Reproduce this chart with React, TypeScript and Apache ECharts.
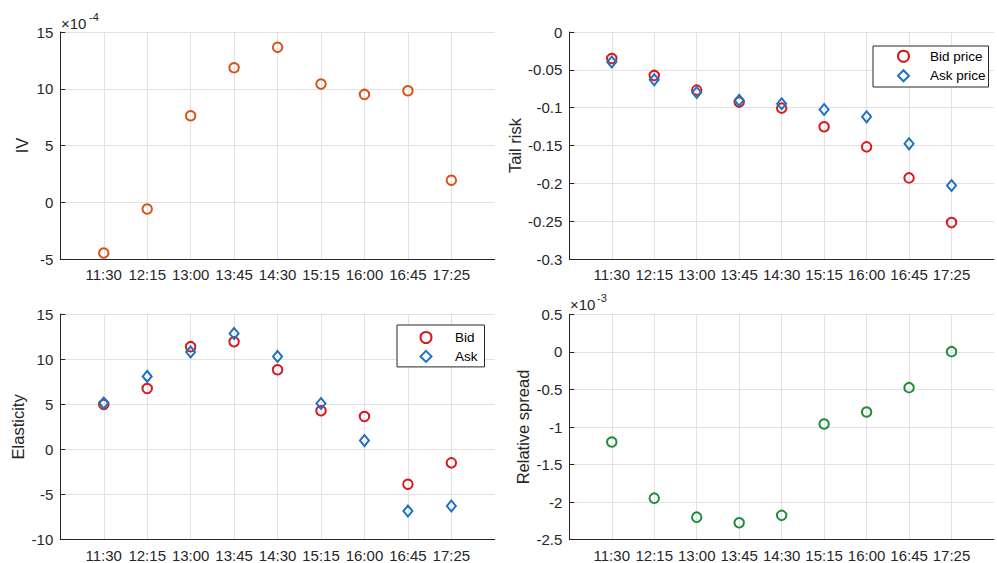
import React, { useEffect, useRef } from "react";
import * as echarts from "echarts";

const times = ["11:30", "12:15", "13:00", "13:45", "14:30", "15:15", "16:00", "16:45", "17:25"];

const ivValues = [-4.47e-4, -0.59e-4, 7.62e-4, 11.85e-4, 13.65e-4, 10.41e-4, 9.5e-4, 9.82e-4, 1.94e-4];

const tailBid = [-0.035, -0.0574, -0.0768, -0.0926, -0.1006, -0.1253, -0.1518, -0.1928, -0.2519];
const tailAsk = [-0.0397, -0.0631, -0.0799, -0.0904, -0.0949, -0.1024, -0.1121, -0.1478, -0.2029];

const elasBid = [4.98, 6.75, 11.38, 11.93, 8.82, 4.28, 3.65, -3.86, -1.49];
const elasAsk = [5.13, 8.09, 10.8, 12.85, 10.3, 5.09, 0.98, -6.82, -6.27];

const spreadValues = [-1.2e-3, -1.947e-3, -2.2e-3, -2.274e-3, -2.176e-3, -0.96e-3, -0.8e-3, -0.476e-3, 0.003e-3];

const FONT = "'Liberation Sans', Arial, Helvetica, sans-serif";
const AX = "#262626";
const GRIDC = "#e2e2e2";
const ORANGE = "#D95319";
const RED = "#D7191F";
const BLUE = "#1F72BD";
const GREEN = "#1E8C3A";

const pts = (arr: number[]) => arr.map((v, i) => [i + 1, v]);

function fmt(v: number, scale: number) {
  const n = Number((v * scale).toFixed(4));
  return Object.is(n, -0) ? "0" : String(n);
}

export default function App() {
  const ref = useRef<HTMLDivElement>(null);
  useEffect(() => {
    if (!ref.current) return;
    const chart = echarts.init(ref.current, undefined, { renderer: "svg" });

    const grids = [
      { left: 60.3, top: 32, width: 434.5, height: 227 },
      { left: 569.3, top: 32, width: 434, height: 227 },
      { left: 60.3, top: 314, width: 434.5, height: 225.7 },
      { left: 569.3, top: 314.3, width: 434, height: 225.4 },
    ];

    const xAxes = grids.map((_, i) => ({
      type: "value",
      gridIndex: i,
      min: 0,
      max: 10,
      interval: 1,
      axisLine: { show: true, onZero: false, lineStyle: { color: AX, width: 1 } },
      axisTick: { show: false },
      axisLabel: {
        color: AX,
        fontSize: 15,
        fontFamily: FONT,
        margin: 8,
        formatter: (v: number) => (v >= 1 && v <= 9 ? times[Math.round(v) - 1] : ""),
      },
      splitLine: { show: true, showMinLine: false, showMaxLine: false, lineStyle: { color: GRIDC, width: 1 } },
    }));

    const yBase = (i: number, name: string, gap: number, min: number, max: number, interval: number, scale: number) => ({
      type: "value",
      gridIndex: i,
      min,
      max,
      interval,
      name,
      nameLocation: "middle",
      nameGap: gap,
      nameTextStyle: { color: AX, fontSize: 16.5, fontFamily: FONT },
      axisLine: { show: true, onZero: false, lineStyle: { color: AX, width: 1 } },
      axisTick: { show: true, inside: true, length: 5, lineStyle: { color: AX } },
      axisLabel: {
        color: AX,
        fontSize: 15,
        fontFamily: FONT,
        margin: 7,
        formatter: (v: number) => fmt(v, scale),
      },
      splitLine: { show: true, showMinLine: false, lineStyle: { color: GRIDC, width: 1 } },
    });

    const yAxes = [
      yBase(0, "IV", 30, -5e-4, 15e-4, 5e-4, 1e4),
      yBase(1, "Tail risk", 46, -0.3, 0, 0.05, 1),
      yBase(2, "Elasticity", 34, -10, 15, 5, 1),
      yBase(3, "Relative spread", 38, -2.5e-3, 0.5e-3, 0.5e-3, 1e3),
    ];

    const circle = (name: string, data: number[], color: string, idx: number) => ({
      type: "scatter",
      name,
      xAxisIndex: idx,
      yAxisIndex: idx,
      data: pts(data),
      symbol: "circle",
      symbolSize: 9.5,
      itemStyle: { color: "rgba(0,0,0,0)", borderColor: color, borderWidth: 2, opacity: 1 },
      emphasis: { disabled: true },
    });
    const diamond = (name: string, data: number[], color: string, idx: number) => ({
      type: "scatter",
      name,
      xAxisIndex: idx,
      yAxisIndex: idx,
      data: pts(data),
      symbol: "diamond",
      symbolSize: [9, 11],
      itemStyle: { color: "rgba(0,0,0,0)", borderColor: color, borderWidth: 2, opacity: 1 },
      emphasis: { disabled: true },
    });

    const legendCommon = (textPad: number) => ({
      orient: "vertical",
      backgroundColor: "#ffffff",
      borderColor: AX,
      borderWidth: 1,
      borderRadius: 0,
      itemWidth: 11,
      itemHeight: 11,
      selectedMode: false,
      formatter: (n: string) => `{t|${n}}`,
      textStyle: {
        color: "#000",
        fontSize: 13.5,
        fontFamily: FONT,
        rich: { t: { color: "#000", fontSize: 13.5, fontFamily: FONT, padding: [0, 0, 0, textPad] } },
      },
    });

    chart.setOption({
      animation: false,
      backgroundColor: "#ffffff",
      grid: grids,
      xAxis: xAxes,
      yAxis: yAxes,
      legend: [
        {
          ...legendCommon(16),
          data: ["Bid price", "Ask price"],
          left: 873,
          top: 46,
          itemGap: 5.5,
          padding: [3.25, 3, 4.25, 24],
        },
        {
          ...legendCommon(18.5),
          data: ["Bid", "Ask"],
          left: 397,
          top: 325,
          itemGap: 4.9,
          padding: [5.5, 7, 3.5, 22.5],
        },
      ],
      series: [
        circle("IV", ivValues, ORANGE, 0),
        circle("Bid price", tailBid, RED, 1),
        diamond("Ask price", tailAsk, BLUE, 1),
        circle("Bid", elasBid, RED, 2),
        diamond("Ask", elasAsk, BLUE, 2),
        circle("Relative spread", spreadValues, GREEN, 3),
      ],
      graphic: [
        { type: "text", left: 61, top: 16, style: { text: "×10", fill: AX, font: `15px ${FONT}` } },
        { type: "text", left: 89, top: 11, style: { text: "-4", fill: AX, font: `11px ${FONT}` } },
        { type: "text", left: 570, top: 297, style: { text: "×10", fill: AX, font: `15px ${FONT}` } },
        { type: "text", left: 597, top: 292, style: { text: "-3", fill: AX, font: `11px ${FONT}` } },
      ],
    });
    return () => chart.dispose();
  }, []);
  return (
    <div
      ref={ref}
      style={{ position: "absolute", left: 0, top: 0, width: 997, height: 563, background: "#fff" }}
    />
  );
}
